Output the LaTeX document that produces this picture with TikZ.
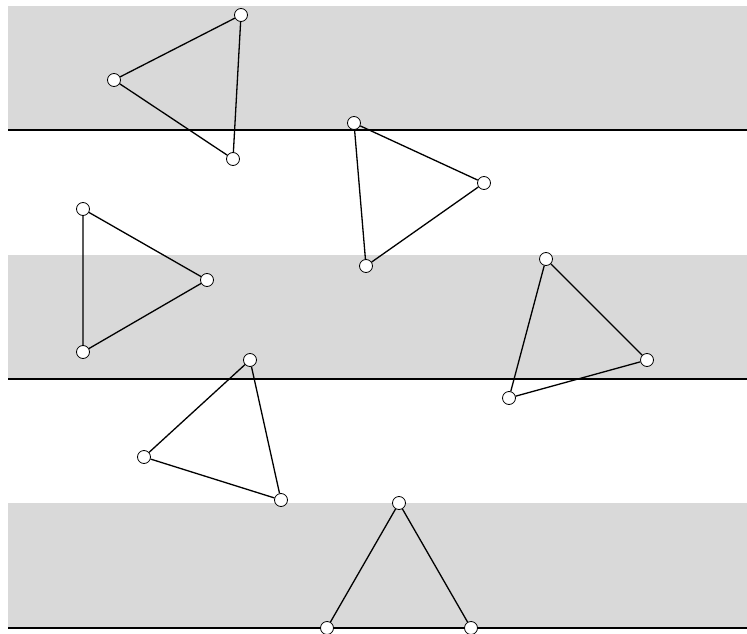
\documentclass[tikz,border=0pt]{standalone}
\begin{document}
\begin{tikzpicture}[x=1pt,y=-1pt,
  band/.style={fill=black!15,draw=none},
  edgeline/.style={line width=1.5pt,black},
  vtx/.style={circle,draw=black,fill=white,line width=0.8pt,minimum size=13pt,inner sep=0pt},
  side/.style={line width=1.3pt,black}]
\useasboundingbox (0,0) rectangle (747,634);
\fill[white] (0,0) rectangle (747,634);
\foreach \t/\b in {6/130,255/379,503/628}{
  \fill[band] (8,\t) rectangle (747,\b);
  \draw[edgeline] (8,\b) -- (747,\b);
}
% triangle 1
\node[vtx] (a1) at (114,80) {};
\node[vtx] (a2) at (241,15) {};
\node[vtx] (a3) at (233,159) {};
% triangle 2
\node[vtx] (b1) at (354,123) {};
\node[vtx] (b2) at (484,183) {};
\node[vtx] (b3) at (366,266) {};
% triangle 3
\node[vtx] (c1) at (83,209) {};
\node[vtx] (c2) at (207,280) {};
\node[vtx] (c3) at (83,352) {};
% triangle 4
\node[vtx] (d1) at (546,259) {};
\node[vtx] (d2) at (647,360) {};
\node[vtx] (d3) at (509,398) {};
% triangle 5
\node[vtx] (e1) at (250,360) {};
\node[vtx] (e2) at (144,457) {};
\node[vtx] (e3) at (281,500) {};
% triangle 6
\node[vtx] (f1) at (399,503) {};
\node[vtx] (f2) at (327,628) {};
\node[vtx] (f3) at (471,628) {};
\foreach \p in {a,b,c,d,e,f}{
  \draw[side] (\p1) -- (\p2) -- (\p3) -- (\p1);
}
\end{tikzpicture}
\end{document}
